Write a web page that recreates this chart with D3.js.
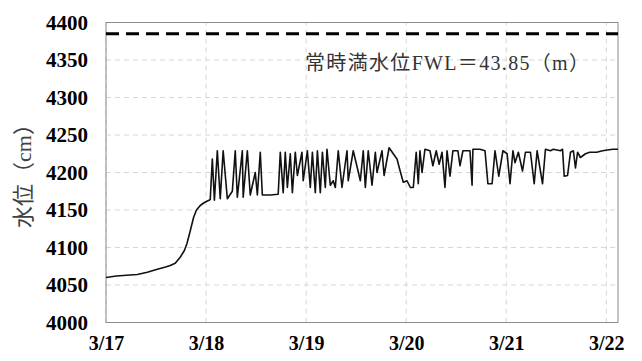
<!DOCTYPE html>
<html>
<head>
<meta charset="utf-8">
<script src="https://cdn.jsdelivr.net/npm/d3@7"></script>
<style>
  body { margin: 0; background: #fff; }
</style>
</head>
<body>
<div class="container"></div>
<script>
const width = 642;
const height = 361;
const margin = { top: 22.5, right: 24, bottom: 38.5, left: 106 };

// horas desde 3/17 00:00
const hours = [0, 2.5, 4.9, 7.5, 9.9, 12.3, 14.3, 15.4, 16.6, 17.8, 18.8, 19.4, 20.2, 21.0, 21.7, 22.6, 23.6, 24.7, 25.0,
  25.5, 26.0, 26.7, 27.4, 28.1, 29.1, 30.3, 31.0, 31.5, 32.7, 32.9, 33.9, 34.6, 35.8, 36.3, 37.0, 37.5, 39.4, 41.3,
  41.8, 42.5, 43.0, 43.5, 44.2, 44.7, 45.4, 45.9, 47.0, 47.3, 48.3, 49.0, 49.5, 50.2, 50.7, 51.4, 51.9, 52.6, 53.0,
  53.8, 54.5, 55.0, 55.7, 56.6, 57.8, 58.1, 59.3, 60.2, 61.0, 61.7, 62.2, 62.9, 63.8, 64.6, 65.0, 66.2, 66.7, 67.9,
  68.9, 69.8, 70.5, 71.3, 72.2, 73.0, 73.7, 74.4, 74.9, 75.3, 75.8, 76.5, 77.7, 78.4, 79.2, 79.9, 80.6, 81.3, 81.8,
  82.5, 83.2, 84.4, 84.9, 85.6, 87.3, 87.8, 88.0, 89.7, 90.9, 91.6, 92.6, 93.3, 94.2, 95.2, 96.2, 96.9, 97.6, 98.1,
  98.9, 99.9, 100.6, 101.8, 102.7, 103.4, 104.7, 105.4, 106.6, 107.3, 109.0, 109.5, 109.9, 110.7, 111.4, 112.1,
  112.6, 113.1, 113.8, 115.0, 116.0, 117.7, 119.1, 120.3, 121.5, 122.8];

// nivel (cm)
const levels = [4060, 4062, 4063, 4064, 4067, 4071, 4074, 4076, 4079, 4087, 4096, 4105, 4122, 4140, 4150, 4156, 4160, 4163, 4164,
  4218, 4163, 4229, 4165, 4229, 4165, 4175, 4229, 4167, 4229, 4167, 4229, 4170, 4200, 4170, 4227, 4170, 4170, 4171,
  4227, 4173, 4227, 4180, 4225, 4173, 4227, 4196, 4227, 4189, 4229, 4180, 4227, 4173, 4229, 4173, 4227, 4180, 4231,
  4183, 4189, 4180, 4229, 4180, 4229, 4189, 4229, 4208, 4189, 4229, 4180, 4229, 4183, 4227, 4200, 4229, 4196, 4233,
  4225, 4218, 4203, 4187, 4189, 4180, 4180, 4227, 4185, 4229, 4200, 4231, 4229, 4209, 4229, 4211, 4227, 4180, 4229,
  4195, 4229, 4229, 4209, 4229, 4229, 4183, 4231, 4231, 4229, 4185, 4185, 4229, 4195, 4229, 4225, 4185, 4229, 4213,
  4227, 4202, 4227, 4227, 4185, 4229, 4185, 4231, 4229, 4231, 4229, 4231, 4195, 4196, 4227, 4229, 4206, 4227,
  4220, 4225, 4227, 4227, 4229, 4230, 4231, 4231];

const dayTicks = [0, 24, 48, 72, 96, 120];
const dayLabels = ['3/17', '3/18', '3/19', '3/20', '3/21', '3/22'];
const levelTicks = [4000, 4050, 4100, 4150, 4200, 4250, 4300, 4350, 4400];
const fwlLevel = 4385;
const fwlLabel = '常時満水位FWL＝43.85（m）';
const yTitle = '水位（cm）';

const svg = d3.select('.container')
  .append('svg')
  .attr('width', width)
  .attr('height', height);

const x = d3.scaleLinear()
  .domain([0, 122.8])
  .range([margin.left, width - margin.right]);

const y = d3.scaleLinear()
  .domain([4000, 4400])
  .range([height - margin.bottom, margin.top]);

// grade
const grid = svg.append('g').attr('class', 'grid');
grid.selectAll('.hgrid')
  .data(levelTicks)
  .enter()
  .append('line')
  .attr('x1', x.range()[0])
  .attr('x2', x.range()[1])
  .attr('y1', d => y(d))
  .attr('y2', d => y(d))
  .attr('stroke', '#d6d6d6')
  .attr('stroke-dasharray', '5,4');

grid.selectAll('.vgrid')
  .data(dayTicks)
  .enter()
  .append('line')
  .attr('x1', d => x(d))
  .attr('x2', d => x(d))
  .attr('y1', y.range()[0])
  .attr('y2', y.range()[1])
  .attr('stroke', '#d6d6d6')
  .attr('stroke-dasharray', '5,4');

// contorno
svg.append('rect')
  .attr('x', x.range()[0])
  .attr('y', y.range()[1])
  .attr('width', x.range()[1] - x.range()[0])
  .attr('height', y.range()[0] - y.range()[1])
  .attr('fill', 'none')
  .attr('stroke', '#8c8c8c')
  .attr('stroke-width', 1);

// eixos (so os rotulos)
const xAxis = svg.append('g')
  .attr('transform', `translate(0, ${y.range()[0]})`)
  .call(d3.axisBottom(x)
    .tickValues(dayTicks)
    .tickFormat((d, i) => dayLabels[i])
    .tickSize(0)
    .tickPadding(13));
xAxis.select('.domain').remove();
xAxis.selectAll('text')
  .attr('font-family', '"Liberation Serif", serif')
  .attr('font-weight', 'bold')
  .attr('font-size', '20px')
  .attr('fill', '#000');

const yAxis = svg.append('g')
  .attr('transform', `translate(${x.range()[0]}, 0)`)
  .call(d3.axisLeft(y)
    .tickValues(levelTicks)
    .tickFormat(d3.format('d'))
    .tickSize(0)
    .tickPadding(18));
yAxis.select('.domain').remove();
yAxis.selectAll('text')
  .attr('font-family', '"Liberation Serif", serif')
  .attr('font-weight', 'bold')
  .attr('font-size', '21px')
  .attr('fill', '#000');

// titulo do eixo y
svg.append('text')
  .attr('transform', `translate(31, ${(y.range()[0] + y.range()[1]) / 2 - 2}) rotate(-90)`)
  .attr('text-anchor', 'middle')
  .attr('font-family', '"Liberation Serif", "Noto Sans CJK JP", serif')
  .attr('font-size', '22px')
  .attr('fill', '#404040')
  .text(yTitle);

// linha FWL
svg.append('line')
  .attr('x1', x.range()[0])
  .attr('x2', x.range()[1])
  .attr('y1', y(fwlLevel))
  .attr('y2', y(fwlLevel))
  .attr('stroke', '#000')
  .attr('stroke-width', 3)
  .attr('stroke-dasharray', '13,7');

svg.append('text')
  .attr('x', 305)
  .attr('y', 70)
  .attr('font-family', '"Liberation Serif", "Noto Sans CJK JP", serif')
  .attr('font-size', '20px')
  .attr('fill', '#333')
  .attr('textLength', 284)
  .attr('lengthAdjust', 'spacing')
  .text(fwlLabel);

// serie
const serie = hours.map((h, i) => ({ h, v: levels[i] }));
svg.append('path')
  .datum(serie)
  .attr('fill', 'none')
  .attr('stroke', '#111')
  .attr('stroke-width', 1.6)
  .attr('stroke-linejoin', 'round')
  .attr('d', d3.line()
    .x(d => x(d.h))
    .y(d => y(d.v)));
</script>
</body>
</html>
